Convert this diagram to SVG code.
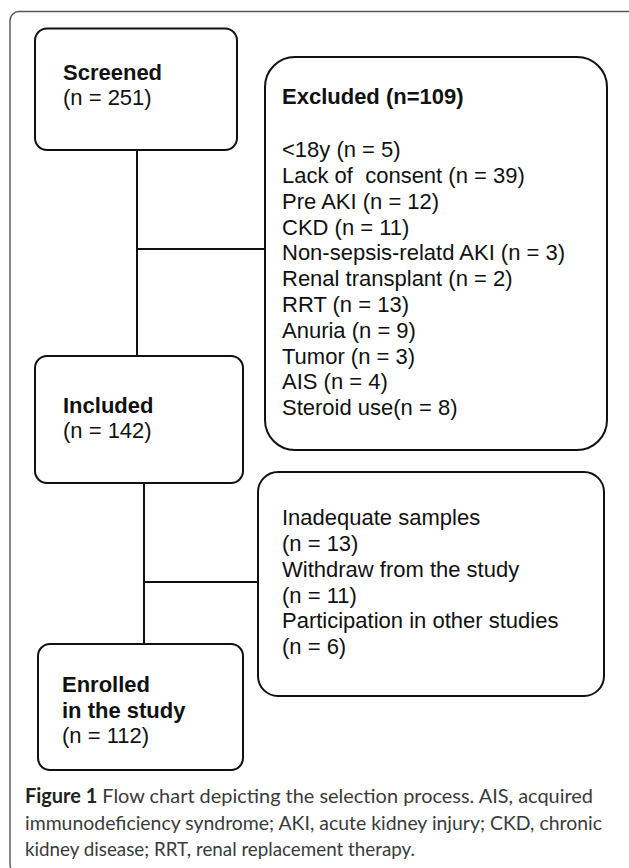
<svg xmlns="http://www.w3.org/2000/svg" width="629" height="868" viewBox="0 0 629 868">
<style>
.frame{fill:none;stroke:#555;stroke-width:1.4}
.box{fill:#fff;stroke:#111;stroke-width:2}
.conn{fill:none;stroke:#111;stroke-width:2}
.t{font-family:"Liberation Sans",Arial,sans-serif;font-size:22px;fill:#111}
.b{font-weight:bold}
.cap{font-family:Lato,"Open Sans",sans-serif;font-size:20px;fill:#3a3a3a}
.capb{font-weight:bold;fill:#222}
</style>
<rect x="0" y="0" width="629" height="868" fill="#fff"/>
<rect class="frame" x="10" y="11.5" width="632" height="862" rx="9"/>
<g id="connectors">
<path class="conn" d="M137 150 V356 M137 249 H265"/>
<path class="conn" d="M144 483 V644 M144 582 H258"/>
</g>
<g id="screened">
<rect class="box" x="35" y="28.5" width="202" height="121.5" rx="12"/>
<text class="t b" x="63" y="79.5">Screened</text>
<text class="t" x="63" y="105">(n = 251)</text>
</g>
<g id="excluded">
<rect class="box" x="265" y="57" width="342" height="393" rx="30"/>
<text class="t b" x="282" y="103.5">Excluded (n=109)</text>
<text class="t" x="282" y="157">&lt;18y (n = 5)</text>
<text class="t" x="282" y="183" style="white-space:pre">Lack of  consent (n = 39)</text>
<text class="t" x="282" y="208.5">Pre AKI (n = 12)</text>
<text class="t" x="282" y="234.5">CKD (n = 11)</text>
<text class="t" x="282" y="260">Non-sepsis-relatd AKI (n = 3)</text>
<text class="t" x="282" y="286">Renal transplant (n = 2)</text>
<text class="t" x="282" y="312">RRT (n = 13)</text>
<text class="t" x="282" y="337.5">Anuria (n = 9)</text>
<text class="t" x="282" y="363.5">Tumor (n = 3)</text>
<text class="t" x="282" y="389">AIS (n = 4)</text>
<text class="t" x="282" y="415">Steroid use(n = 8)</text>
</g>
<g id="included">
<rect class="box" x="35" y="356" width="208" height="127" rx="12"/>
<text class="t b" x="63" y="412.5">Included</text>
<text class="t" x="63" y="437.5">(n = 142)</text>
</g>
<g id="lost">
<rect class="box" x="258" y="472" width="346" height="224" rx="20"/>
<text class="t" x="282" y="525">Inadequate samples</text>
<text class="t" x="282" y="551">(n = 13)</text>
<text class="t" x="282" y="577">Withdraw from the study</text>
<text class="t" x="282" y="602.5">(n = 11)</text>
<text class="t" x="282" y="628">Participation in other studies</text>
<text class="t" x="282" y="653.5">(n = 6)</text>
</g>
<g id="enrolled">
<rect class="box" x="38" y="644" width="205" height="126" rx="12"/>
<text class="t b" x="62" y="691.5">Enrolled</text>
<text class="t b" x="62" y="717.5">in the study</text>
<text class="t" x="62" y="743">(n = 112)</text>
</g>
<g id="caption">
<text class="cap" x="25" y="803" textLength="568" lengthAdjust="spacingAndGlyphs"><tspan class="capb">Figure 1</tspan> Flow chart depicting the selection process. AIS, acquired</text>
<text class="cap" x="25" y="830" textLength="577" lengthAdjust="spacingAndGlyphs">immunodeficiency syndrome; AKI, acute kidney injury; CKD, chronic</text>
<text class="cap" x="25" y="856" textLength="390" lengthAdjust="spacingAndGlyphs">kidney disease; RRT, renal replacement therapy.</text>
</g>
</svg>
